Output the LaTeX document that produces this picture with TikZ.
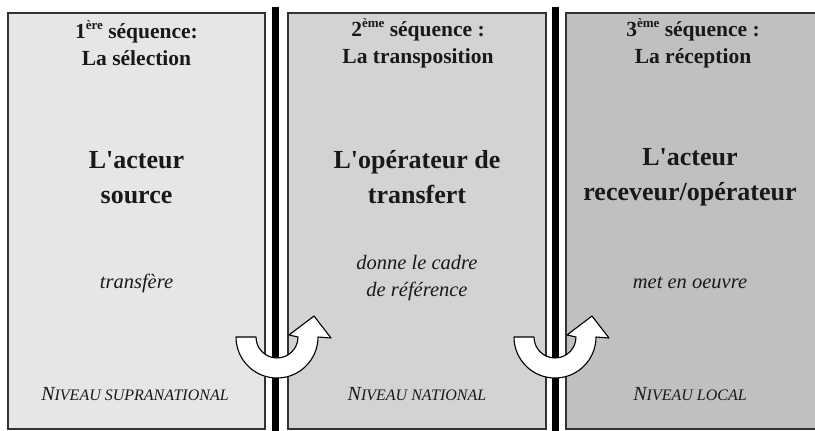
\documentclass[tikz,border=0pt]{standalone}
\usepackage{fontspec}
\setmainfont{Liberation Serif}[Ligatures=TeXOff]
\definecolor{panelA}{RGB}{230,230,230}
\definecolor{panelB}{RGB}{211,211,211}
\definecolor{panelC}{RGB}{192,192,192}
\definecolor{ink}{RGB}{25,25,25}
\newcommand{\mysup}[1]{\raisebox{0.42em}{\fontsize{13}{13}\selectfont #1}}
\newcommand{\mylvl}[2]{{\fontsize{20}{24}\selectfont #1}{\fontsize{16}{20}\selectfont #2}}
\tikzset{
  uturnpic/.pic={
    \draw[uturn] (-41,0) arc[start angle=180,end angle=360,radius=41]
      -- (54,-1) -- (37,21) -- (12,2) -- (21,0)
      arc[start angle=0,end angle=-180,radius=21] -- cycle;
  }
}
\begin{document}
\begin{tikzpicture}[x=1pt,y=1pt,
  panel/.style={draw=black!80, line width=1.1pt},
  barfill/.style={fill=black, draw=none},
  uturn/.style={fill=white, draw=black, line width=1.1pt, line join=round},
  title/.style={font=\fontsize{21.5}{27}\selectfont\bfseries, align=center, text=ink, inner sep=0pt},
  actor/.style={font=\fontsize{26}{35}\selectfont\bfseries, align=center, text=ink, inner sep=0pt},
  role/.style={font=\fontsize{20.5}{27}\selectfont\itshape, align=center, text=ink, inner sep=0pt},
  level/.style={font=\itshape, align=center, text=ink, inner sep=0pt}]
\useasboundingbox (0,0) rectangle (815,431);
\fill[white] (0,0) rectangle (815,431);
% panels
\draw[panel, fill=panelA] (8,2) rectangle (265,418);
\draw[panel, fill=panelB] (288,2) rectangle (546,418);
\draw[panel, fill=panelC] (566,2) rectangle (822,418);
% separators
\fill[barfill] (272,-2) rectangle (279,424);
\fill[barfill] (552,-2) rectangle (559,424);
% u-turn arrows
\pic (turnA) at (277,94) {uturnpic};
\pic (turnB) at (555,94) {uturnpic};
% panel 1
\node[title] (t1) at (136.5,387.5) {1\mysup{ère} séquence:\\La sélection};
\node[actor] (a1) at (136.5,253.5) {L'acteur\\source};
\node[role] (r1) at (136.5,148) {transfère};
\node[level] (l1) at (135,37) {\mylvl{N}{IVEAU SUPRANATIONAL}};
% panel 2
\node[title] (t2) at (418,387.5) {2\mysup{ème} séquence :\\La transposition};
\node[actor] (a2) at (417,253.5) {L'opérateur de\\transfert};
\node[role] (r2) at (417,152.5) {donne le cadre\\de référence};
\node[level] (l2) at (417,37) {\mylvl{N}{IVEAU NATIONAL}};
% panel 3
\node[title] (t3) at (693,387.5) {3\mysup{ème} séquence :\\La réception};
\node[actor] (a3) at (690,253.5) {L'acteur\\receveur/opérateur};
\node[role] (r3) at (690,148) {met en oeuvre};
\node[level] (l3) at (690,37) {\mylvl{N}{IVEAU LOCAL}};
\end{tikzpicture}
\end{document}
